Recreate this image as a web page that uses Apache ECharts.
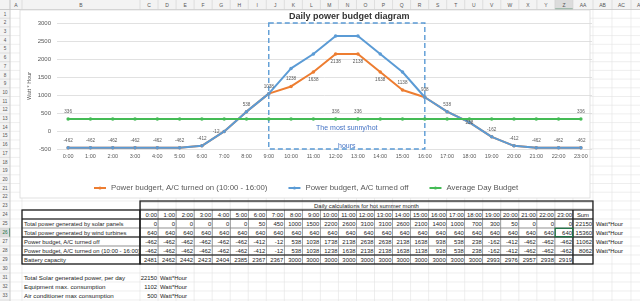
<!DOCTYPE html>
<html><head><meta charset="utf-8">
<script src="https://cdn.jsdelivr.net/npm/echarts@6/dist/echarts.min.js"></script>
<style>
html,body{margin:0;padding:0;width:640px;height:301px;overflow:hidden;background:#fff;font-family:"Liberation Sans",Arial,sans-serif}
#sheet{position:absolute;left:0;top:0}
#chart{position:absolute;left:0;top:0;width:640px;height:301px}
</style></head><body>
<svg id="sheet" width="640" height="301" xmlns="http://www.w3.org/2000/svg"></svg>
<div id="chart"></div>
<script>
// ---------- data ----------
const hours = ['0:00','1:00','2:00','3:00','4:00','5:00','6:00','7:00','8:00','9:00','10:00','11:00','12:00','13:00','14:00','15:00','16:00','17:00','18:00','19:00','20:00','21:00','22:00','23:00'];
const solar = [0,0,0,0,0,0,50,450,1000,1500,2200,2600,3100,3100,2600,2100,1400,1000,700,300,50,0,0,0];
const wind = [640,640,640,640,640,640,640,640,640,640,640,640,640,640,640,640,640,640,640,640,640,640,640,640];
const budgetOff = [-462,-462,-462,-462,-462,-462,-412,-12,538,1038,1738,2138,2638,2638,2138,1638,938,538,238,-162,-412,-462,-462,-462];
const budgetOn = [-462,-462,-462,-462,-462,-462,-412,-12,538,1038,1238,1638,2138,2138,1638,1138,938,538,238,-162,-412,-462,-462,-462];
const avgBudget = [336,336,336,336,336,336,336,336,336,336,336,336,336,336,336,336,336,336,336,336,336,336,336,336];
const battery = [2481,2462,2442,2423,2404,2385,2367,2367,3000,3000,3000,3000,3000,3000,3000,3000,3000,3000,3000,2993,2976,2957,2938,2919];
const sums = [22150,15360,11062,8062];
const rowLabels = ['Total power generated by solar panels','Total power generated by wind turbines','Power budget, A/C turned off','Power budget, A/C turned on (10:00 - 16:00)','Battery capacity'];
const summaryLabels = ['Total Solar generated power, per day','Equipment max. consumption','Air conditioner max consumption'];
const summaryValues = [22150,1102,500];
const unit = 'Watt*Hour';
const seriesNames = ['Power budgert, A/C turned on (10:00 - 16:00)','Power budgert, A/C turned off','Average Day Budget'];
const tableTitle = 'Daily calculations for hot summer month';
const chartTitle = 'Daily power budget diagram';
const yAxisName = 'Watt * Hour';
const zoneText = 'The most sunny/hot\nhours';

// ---------- label layout (style only) ----------
const orangeLabelPos = ['top','top','top','top','top','top','top','left','top','top','top','bottom','bottom','bottom','bottom','top','top','top','inside','top','top','top','top','top'];
const greenLabelShown = [0,12,13,23];

// ---------- spreadsheet background (SVG) ----------
const colEdges = [0,10,22,140];
for (let i = 1; i <= 24; i++) colEdges.push(140 + 18.04 * i);
colEdges.push(593,612,631,650);
const colNames = ['', 'A','B'];
for (let c = 'C'.charCodeAt(0); c <= 'Z'.charCodeAt(0); c++) colNames.push(String.fromCharCode(c));
colNames.push('AA','AB','AC','AD');
const rowEdges = [0, 9.5];
for (let n = 1; n <= 22; n++) rowEdges.push(9.5 + 8.7 * n);
for (let n = 23; n <= 34; n++) rowEdges.push(201 + 9 * (n - 22));
rowEdges[23] = 201;

let s = '';
const F = 'font-family="Liberation Sans, Arial, sans-serif"';
function line(x1,y1,x2,y2,c,w){ s += `<line x1="${x1}" y1="${y1}" x2="${x2}" y2="${y2}" stroke="${c}" stroke-width="${w}"/>`; }
function rect(x,y,w,h,fill,stroke,sw){ s += `<rect x="${x}" y="${y}" width="${w}" height="${h}" fill="${fill}" stroke="${stroke||'none'}" stroke-width="${sw||0}"/>`; }
function text(x,y,t,size,anchor,fill,extra){ s += `<text x="${x}" y="${y}" font-size="${size}" text-anchor="${anchor}" fill="${fill}" ${F} ${extra||''}>${t}</text>`; }
function rowMid(n){ return (rowEdges[n] + rowEdges[n+1]) / 2; }
function colL(k){ return colEdges[k]; }
function colR(k){ return colEdges[k+1]; }

for (let k = 1; k < colEdges.length; k++) line(colEdges[k], 9.5, colEdges[k], 301, '#e3e3e3', 0.6);
for (let n = 1; n < rowEdges.length; n++) line(0, rowEdges[n], 640, rowEdges[n], '#e3e3e3', 0.6);
rect(0,0,640,9.5,'#f3f3f3');
rect(0,0,10,301,'#f3f3f3');
rect(colL(26),0,colR(26)-colL(26),9.5,'#dcdcdc');
line(colL(26),9.2,colR(26),9.2,'#217346',1);
rect(0,rowEdges[26],10,rowEdges[27]-rowEdges[26],'#dcdcdc');
line(9.6,rowEdges[26],9.6,rowEdges[27],'#217346',1);
for (let k = 1; k < colEdges.length; k++) line(colEdges[k],0,colEdges[k],9.5,'#d0d0d0',0.6);
for (let n = 1; n < rowEdges.length; n++) line(0,rowEdges[n],10,rowEdges[n],'#d0d0d0',0.6);
line(0,9.5,640,9.5,'#c8c8c8',0.8);
line(10,0,10,301,'#c8c8c8',0.8);
for (let k = 1; k < colNames.length; k++) text((colL(k)+colR(k))/2, 7, colNames[k], 5, 'middle', '#555');
for (let n = 1; n <= 33; n++) text(5, rowMid(n)+1.8, String(n), 4.6, 'middle', n===26 ? '#217346' : '#555');

rect(20, 10, 570, 188, '#ffffff', '#d9d9d9', 0.8);

const TS = 5.9, TC = '#222', TB = 2.1;
const xT0 = colL(3), xT1 = colR(27), xSumL = colL(27);
rect(xT0+0.5, rowEdges[23]+1, xT1-xT0-1, rowEdges[24]-rowEdges[23]-2, 'none', '#888', 0.5);
text((xT0+xT1)/2, rowMid(23)+TB, tableTitle, TS, 'middle', TC);
for (let n = 24; n <= 29; n++) {
  for (let k = 3; k <= 27; k++) rect(colL(k), rowEdges[n], colR(k)-colL(k), rowEdges[n+1]-rowEdges[n], 'none', '#8a8a8a', 0.5);
  rect(colL(2), rowEdges[n], colR(2)-colL(2), rowEdges[n+1]-rowEdges[n], 'none', '#8a8a8a', 0.5);
}
hours.forEach((h,i)=> text(colR(3+i)-1, rowMid(24)+TB, h, TS, 'end', TC));
text((colL(27)+colR(27))/2, rowMid(24)+TB, 'Sum', TS, 'middle', TC);
const tableRows = [solar, wind, budgetOff, budgetOn, battery];
s += '<defs><clipPath id="clipB"><rect x="22" y="0" width="117.5" height="301"/></clipPath></defs>';
tableRows.forEach((arr, r) => {
  const n = 25 + r;
  arr.forEach((v,i)=> text(colR(3+i)-1, rowMid(n)+TB, String(v), TS, 'end', TC));
  text(colL(2)+2, rowMid(n)+TB, rowLabels[r], TS, 'start', TC, 'clip-path="url(#clipB)"');
  if (r < 4) {
    text(colR(27)-1, rowMid(n)+TB, String(sums[r]), TS, 'end', TC);
    text(colL(28)+3, rowMid(n)+TB, unit, TS, 'start', TC);
  }
});
const TK = '#1a1a1a', TW = 1.2;
rect(xT0, rowEdges[23], xT1-xT0, rowEdges[30]-rowEdges[23], 'none', TK, TW);
line(xSumL, rowEdges[24], xSumL, rowEdges[30], TK, TW);
rect(colL(2), rowEdges[24], colR(2)-colL(2), rowEdges[30]-rowEdges[24], 'none', TK, TW);
[25,27,29].forEach(n => line(colL(2), rowEdges[n], xT1, rowEdges[n], TK, TW));
line(xT0, rowEdges[24], xT1, rowEdges[24], TK, TW);
rect(colL(26)+0.3, rowEdges[26]+0.3, colR(26)-colL(26)-0.6, rowEdges[27]-rowEdges[26]-0.6, 'none', '#217346', 1.3);
summaryLabels.forEach((t,i)=>{
  const n = 31 + i;
  text(colL(2)+2, rowMid(n)+TB, t, 6.2, 'start', TC);
  text(colR(3)-1, rowMid(n)+TB, String(summaryValues[i]), TS, 'end', TC);
  text(colL(4)+2, rowMid(n)+TB, unit, TS, 'start', TC);
});
document.getElementById('sheet').innerHTML = s;

// ---------- chart ----------
const FONT = '"Liberation Sans", Arial, sans-serif';
const chart = echarts.init(document.getElementById('chart'), null, {renderer: 'canvas'});
const labelStyle = {fontSize: 4.6, color: '#595959', fontFamily: FONT};
chart.setOption({
  backgroundColor: 'transparent',
  animation: false,
  textStyle: {fontFamily: FONT},
  title: {text: chartTitle, left: 289, top: 12, padding: 0,
    textStyle: {fontSize: 9, fontWeight: 'bold', color: '#333', fontFamily: FONT}},
  legend: {top: 184, left: 93, itemWidth: 12, itemHeight: 4, itemGap: 20, padding: 0,
    textStyle: {fontSize: 7.8, color: '#595959', fontFamily: FONT},
    data: seriesNames},
  grid: {left: 57, top: 23, width: 535, height: 126, containLabel: false},
  xAxis: {type: 'category', data: hours, boundaryGap: true,
    axisLine: {show: false, onZero: false}, axisTick: {show: false},
    axisLabel: {fontSize: 5.5, color: '#595959', margin: 4, interval: 0, fontFamily: FONT}},
  yAxis: {type: 'value', min: -500, max: 3000, interval: 500,
    name: yAxisName, nameLocation: 'middle', nameGap: 25, nameRotate: 90, nameMoveOverlap: false,
    nameTextStyle: {fontSize: 5.5, color: '#595959', fontFamily: FONT},
    axisLine: {show: false}, axisTick: {show: false},
    axisLabel: {fontSize: 6, color: '#595959', margin: 6, fontFamily: FONT, formatter: v => String(v)},
    splitLine: {lineStyle: {color: '#d9d9d9', width: 0.8}}},
  series: [
    {name: seriesNames[0], type: 'line', color: '#ED7D31',
     symbol: 'circle', symbolSize: 3.5, lineStyle: {width: 2},
     label: Object.assign({show: true, distance: 3}, labelStyle),
     data: budgetOn.map((v,i)=>({value: v, label: {position: orangeLabelPos[i]}}))},
    {name: seriesNames[1], type: 'line', color: '#5B9BD5',
     symbol: 'circle', symbolSize: 3.5, lineStyle: {width: 2},
     data: budgetOff,
     markArea: {silent: true,
       itemStyle: {color: 'rgba(0,0,0,0)', borderColor: '#5B9BD5', borderWidth: 1.4, borderType: [5,3]},
       label: {show: true, position: 'insideBottom', distance: 0, offset: [0,5], formatter: zoneText,
         lineHeight: 18, fontSize: 7, color: '#4472C4', fontFamily: FONT},
       data: [[{xAxis: hours[9], yAxis: 3000}, {xAxis: hours[16], yAxis: -500}]]}},
    {name: seriesNames[2], type: 'line', color: '#44BB55',
     symbol: 'circle', symbolSize: 3.5, lineStyle: {width: 2},
     data: avgBudget.map((v,i)=>({value: v, label: {show: greenLabelShown.includes(i), position: 'top', distance: 3, ...labelStyle}}))}
  ]
});
</script>
</body></html>
